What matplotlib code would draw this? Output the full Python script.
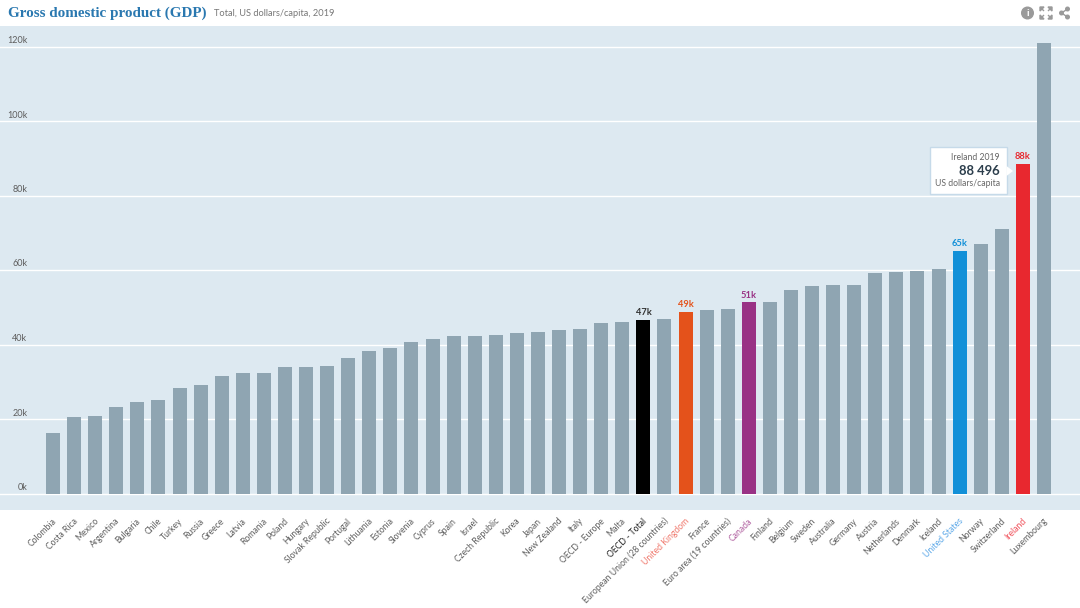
import matplotlib

matplotlib.use("Agg")
import matplotlib.pyplot as plt
from matplotlib.patches import Circle, Polygon, Rectangle
from matplotlib.transforms import ScaledTranslation

COUNTRIES = [
    "Colombia", "Costa Rica", "Mexico", "Argentina", "Bulgaria", "Chile", "Turkey", "Russia",
    "Greece", "Latvia", "Romania", "Poland", "Hungary", "Slovak Republic", "Portugal", "Lithuania",
    "Estonia", "Slovenia", "Cyprus", "Spain", "Israel", "Czech Republic", "Korea", "Japan",
    "New Zealand", "Italy", "OECD - Europe", "Malta", "OECD - Total", "European Union (28 countries)",
    "United Kingdom", "France", "Euro area (19 countries)", "Canada", "Finland", "Belgium", "Sweden",
    "Australia", "Germany", "Austria", "Netherlands", "Denmark", "Iceland", "United States", "Norway",
    "Switzerland", "Ireland", "Luxembourg",
]
GDP_K = [
    16.2, 20.5, 20.8, 23.2, 24.6, 25.1, 28.3, 29.2,
    31.5, 32.3, 32.3, 34.0, 34.0, 34.3, 36.5, 38.3,
    39.0, 40.7, 41.4, 42.3, 42.3, 42.6, 43.0, 43.3,
    43.8, 44.2, 45.7, 46.0, 46.7, 46.8,
    48.8, 49.2, 49.5, 51.3, 51.4, 54.6, 55.8,
    55.9, 56.1, 59.2, 59.4, 59.6, 60.2, 65.2, 66.9,
    71.0, 88.5, 121.0,
]
Y_TICKS = [0, 20, 40, 60, 80, 100, 120]

# bar colour, value label colour, country label colour for the highlighted bars
HIGHLIGHTS = {
    "OECD - Total": ("#000000", "#333333", "#222222"),
    "United Kingdom": ("#e4521b", "#e4521b", "#f0786c"),
    "Canada": ("#993285", "#993285", "#b060a0"),
    "United States": ("#1290d8", "#1290d8", "#5ca8e8"),
    "Ireland": ("#e8282f", "#e8282f", "#f0505a"),
}
VALUE_LABELS = {"OECD - Total": "47k", "United Kingdom": "49k", "Canada": "51k",
                "United States": "65k", "Ireland": "88k"}

BAR_COLOR = "#8fa5b2"
PANEL_COLOR = "#dde9f1"
TEXT_COLOR = "#5e5e5e"

plt.rcParams["font.family"] = ["Lato", "DejaVu Sans"]

fig = plt.figure(figsize=(10.8, 6.08), dpi=100)
ax = fig.add_axes([0, (608 - 510) / 608, 1, (510 - 26) / 608])
ax.set_facecolor(PANEL_COLOR)

# pixel layout of the plot: first bar centre, bar spacing, 0k line, px per 1k
x0, dx = 53.0, 21.085
y0, py = 493.5, 3.725
ax.set_xlim(-x0 / dx, (1080 - x0) / dx)
ax.set_ylim((y0 - 510) / py, (y0 - 26) / py)

for spine in ax.spines.values():
    spine.set_visible(False)
ax.tick_params(left=False, bottom=False, labelleft=False)

ax.set_yticks(Y_TICKS)
ax.grid(True, axis="y", color="white", linewidth=1.0)
ax.set_axisbelow(True)

positions = list(range(len(COUNTRIES)))
colors = [HIGHLIGHTS[c][0] if c in HIGHLIGHTS else BAR_COLOR for c in COUNTRIES]
ax.bar(positions, GDP_K, width=0.664, color=colors, zorder=3)

for tick in Y_TICKS:
    ax.annotate(f"{tick}k", xy=(0, tick), xycoords=("axes fraction", "data"), xytext=(27.5, 6),
                textcoords="offset pixels", ha="right", va="center", fontsize=6.5, color=TEXT_COLOR)

ax.set_xticks(positions)
ax.set_xticklabels(COUNTRIES, rotation=45, ha="right", va="center", rotation_mode="anchor",
                   fontsize=6.2, color=TEXT_COLOR)
ax.tick_params(axis="x", length=0, pad=7)
# nudge the labels 2px right, their ends sit just past the bar centre
nudge = ScaledTranslation(2 / 100, 0, fig.dpi_scale_trans)
for label, country in zip(ax.get_xticklabels(), COUNTRIES):
    label.set_transform(label.get_transform() + nudge)
    if country in HIGHLIGHTS:
        label.set_color(HIGHLIGHTS[country][2])

for i, country in enumerate(COUNTRIES):
    if country in VALUE_LABELS:
        ax.annotate(VALUE_LABELS[country], xy=(i, GDP_K[i]), xytext=(0, 7), textcoords="offset pixels",
                    ha="center", va="center", fontsize=6.7, fontweight="bold",
                    color=HIGHLIGHTS[country][1], zorder=5)

# overlay in image pixels for the header, icons and tooltip
ov = fig.add_axes([0, 0, 1, 1], facecolor="none")
ov.set_xlim(0, 1080)
ov.set_ylim(608, 0)
ov.axis("off")

ov.text(8, 13, "Gross domestic product (GDP)", family="Liberation Serif", fontweight="bold",
        fontsize=10.9, color="#2a78b0", ha="left", va="center")
ov.text(214.5, 13, "Total, US dollars/capita, 2019", fontsize=6.7, color="#777777", ha="left", va="center")

# info icon
ICON = "#9a9a9a"
ov.add_patch(Circle((1027.5, 13), 5.8, color=ICON))
ov.text(1027.5, 13, "i", fontsize=7.5, fontweight="bold", color="white", ha="center", va="center")

# expand icon
for sx, sy in [(-1, -1), (1, -1), (-1, 1), (1, 1)]:
    cx, cy = 1046 + sx * 6, 13 + sy * 6
    ov.add_patch(Polygon([(cx, cy), (cx - sx * 4, cy), (cx, cy - sy * 4)], color=ICON))
    ov.plot([cx - sx * 1, cx - sx * 3.5], [cy - sy * 1, cy - sy * 3.5], color=ICON, linewidth=1.0)

# share icon
ov.plot([1067.5, 1061.5, 1067.5], [9, 13, 17], color=ICON, linewidth=1.0)
for cx, cy in [(1067.5, 9), (1061.5, 13), (1067.5, 17)]:
    ov.add_patch(Circle((cx, cy), 1.8, color=ICON))

# tooltip for Ireland
ov.add_patch(Rectangle((930, 147), 77, 47, facecolor="white", edgecolor="#c6dae9", linewidth=1, zorder=6))
ov.add_patch(Polygon([(1006.5, 166), (1013, 171), (1006.5, 176)], facecolor="white", edgecolor="none", zorder=7))
ov.text(1000, 157, "Ireland 2019", fontsize=6.2, color="#666666", ha="right", va="center", zorder=8)
ov.text(1000, 171, "88 496", fontsize=9.4, fontweight="bold", color="#2c3e4c", ha="right", va="center", zorder=8)
ov.text(1000, 184, "US dollars/capita", fontsize=6.2, color="#666666", ha="right", va="center", zorder=8)

fig.savefig("out.png", dpi=100, facecolor="white")
